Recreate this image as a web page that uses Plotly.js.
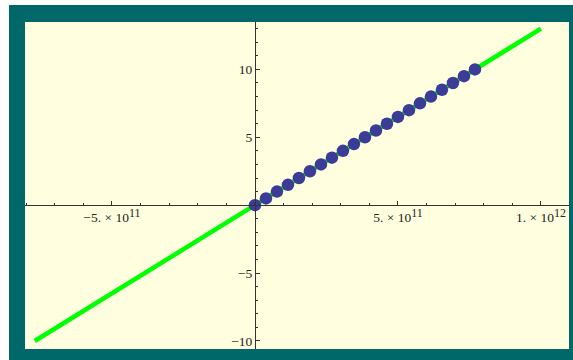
<!DOCTYPE html>
<html>
<head>
<meta charset="utf-8">
<script src="https://cdn.plot.ly/plotly-3.0.1.min.js"></script>
<style>
  html, body { margin: 0; padding: 0; background: #ffffff; }
  #plot { position: absolute; left: 9px; top: 5px; width: 564px; height: 355px; }
</style>
</head>
<body>
<div id="plot"></div>
<script>
// Fitted straight line (endpoints) and the sampled points lying on it
const lineX = [-7.7e11, 1.0e12];
const lineY = [-10, 13];

const pointsX = [0, 3.85e10, 7.69e10, 1.154e11, 1.538e11, 1.923e11, 2.308e11,
  2.692e11, 3.077e11, 3.462e11, 3.846e11, 4.231e11, 4.615e11, 5.0e11,
  5.385e11, 5.769e11, 6.154e11, 6.538e11, 6.923e11, 7.308e11, 7.692e11];
const pointsY = [0, 0.5, 1, 1.5, 2, 2.5, 3, 3.5, 4, 4.5, 5, 5.5, 6, 6.5,
  7, 7.5, 8, 8.5, 9, 9.5, 10];

// Axis ticks and labels
const xTickVals = [-5e11, 5e11, 1e12];
const xTickText = [
  '\u22125. \u00d7 10<sup><span style="font-size:12px">11</span></sup>',
  '5. \u00d7 10<sup><span style="font-size:12px">11</span></sup>',
  '1. \u00d7 10<sup><span style="font-size:12px">12</span></sup>'
];
const yTickVals = [-10, -5, 5, 10];
const yTickText = ['\u221210', '\u22125', '5', '10'];

const xRange = [-8.04e11, 1.098e12];
const yRange = [-10.59, 13.49];

// place each axis where the other variable is zero
const xAxisPos = (0 - yRange[0]) / (yRange[1] - yRange[0]);
const yAxisPos = (0 - xRange[0]) / (xRange[1] - xRange[0]);

const traces = [
  {
    x: lineX, y: lineY, type: 'scatter', mode: 'lines',
    line: { color: '#00ff00', width: 4.5 },
    hoverinfo: 'skip'
  },
  {
    x: pointsX, y: pointsY, type: 'scatter', mode: 'markers',
    marker: { color: '#3c3c98', size: 12.5, line: { width: 0 } }
  }
];

const tickFont = { family: '"Liberation Serif", "DejaVu Serif", serif', size: 13.5, color: '#222' };

const layout = {
  width: 564, height: 355,
  margin: { l: 16, r: 4, t: 16.5, b: 11, pad: 0 },
  paper_bgcolor: '#006868',
  plot_bgcolor: '#ffffe0',
  showlegend: false,
  xaxis: {
    range: xRange, anchor: 'free', position: xAxisPos,
    showgrid: false, zeroline: false,
    showline: true, linecolor: '#333', linewidth: 1,
    tickmode: 'array', tickvals: xTickVals, ticktext: xTickText,
    ticks: 'inside', ticklen: 4.5, tickcolor: '#333', tickwidth: 1,
    tickfont: tickFont,
    minor: { tickmode: 'linear', tick0: 0, dtick: 1e11, ticks: 'inside', ticklen: 2.5, tickcolor: '#333', showgrid: false }
  },
  yaxis: {
    range: yRange, anchor: 'free', position: yAxisPos,
    showgrid: false, zeroline: false,
    showline: true, linecolor: '#333', linewidth: 1,
    tickmode: 'array', tickvals: yTickVals, ticktext: yTickText,
    ticks: 'inside', ticklen: 4.5, tickcolor: '#333', tickwidth: 1,
    tickfont: tickFont,
    minor: { tickmode: 'linear', tick0: 0, dtick: 1, ticks: 'inside', ticklen: 2.5, tickcolor: '#333', showgrid: false }
  }
};

Plotly.newPlot('plot', traces, layout, { displayModeBar: false, staticPlot: true });
</script>
</body>
</html>
